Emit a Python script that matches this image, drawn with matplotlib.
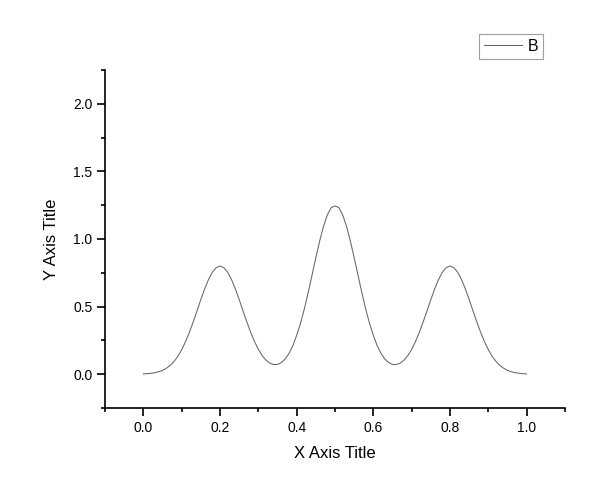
import matplotlib
matplotlib.use("Agg")
import matplotlib.pyplot as plt
from matplotlib.ticker import FixedLocator

plt.rcParams['font.family'] = ['Liberation Sans', 'DejaVu Sans']

x_vals = [0.00, 0.01, 0.02, 0.03, 0.04, 0.05, 0.06, 0.07, 0.08, 0.09,
          0.10, 0.11, 0.12, 0.13, 0.14, 0.15, 0.16, 0.17, 0.18, 0.19,
          0.20, 0.21, 0.22, 0.23, 0.24, 0.25, 0.26, 0.27, 0.28, 0.29,
          0.30, 0.31, 0.32, 0.33, 0.34, 0.35, 0.36, 0.37, 0.38, 0.39,
          0.40, 0.41, 0.42, 0.43, 0.44, 0.45, 0.46, 0.47, 0.48, 0.49,
          0.50, 0.51, 0.52, 0.53, 0.54, 0.55, 0.56, 0.57, 0.58, 0.59,
          0.60, 0.61, 0.62, 0.63, 0.64, 0.65, 0.66, 0.67, 0.68, 0.69,
          0.70, 0.71, 0.72, 0.73, 0.74, 0.75, 0.76, 0.77, 0.78, 0.79,
          0.80, 0.81, 0.82, 0.83, 0.84, 0.85, 0.86, 0.87, 0.88, 0.89,
          0.90, 0.91, 0.92, 0.93, 0.94, 0.95, 0.96, 0.97, 0.98, 0.99, 1.00]
y_vals = [0.002, 0.004, 0.007, 0.011, 0.018, 0.028, 0.044, 0.065, 0.094, 0.132,
          0.181, 0.240, 0.309, 0.386, 0.468, 0.552, 0.631, 0.700, 0.754, 0.788,
          0.800, 0.788, 0.754, 0.700, 0.631, 0.552, 0.468, 0.387, 0.310, 0.242,
          0.184, 0.138, 0.104, 0.082, 0.071, 0.072, 0.086, 0.112, 0.154, 0.211,
          0.288, 0.376, 0.483, 0.604, 0.732, 0.862, 0.985, 1.094, 1.178, 1.232,
          1.245, 1.232, 1.178, 1.094, 0.985, 0.862, 0.732, 0.604, 0.483, 0.376,
          0.288, 0.211, 0.154, 0.112, 0.086, 0.072, 0.071, 0.082, 0.104, 0.138,
          0.184, 0.242, 0.310, 0.387, 0.468, 0.552, 0.631, 0.700, 0.754, 0.788,
          0.800, 0.788, 0.754, 0.700, 0.631, 0.552, 0.468, 0.386, 0.309, 0.240,
          0.181, 0.132, 0.094, 0.065, 0.044, 0.028, 0.018, 0.011, 0.007, 0.004, 0.002]
series_name = "B"
x_title = "X Axis Title"
y_title = "Y Axis Title"
x_major = [0.0, 0.2, 0.4, 0.6, 0.8, 1.0]
x_minor = [-0.1, 0.1, 0.3, 0.5, 0.7, 0.9, 1.1]
y_major = [0.0, 0.5, 1.0, 1.5, 2.0]
y_minor = [-0.25, 0.25, 0.75, 1.25, 1.75, 2.25]
x_labels = ['0.0', '0.2', '0.4', '0.6', '0.8', '1.0']
y_labels = ['0.0', '0.5', '1.0', '1.5', '2.0']

fig = plt.figure(figsize=(6.0, 4.96), dpi=100)
ax = fig.add_axes([0.175, 0.1774, 0.7667, 0.6815])

ax.plot(x_vals, y_vals, color='#666666', lw=0.75, label=series_name)

ax.set_xlim(-0.1, 1.1)
ax.set_ylim(-0.25, 2.25)

ax.xaxis.set_major_locator(FixedLocator(x_major))
ax.xaxis.set_minor_locator(FixedLocator(x_minor))
ax.yaxis.set_major_locator(FixedLocator(y_major))
ax.yaxis.set_minor_locator(FixedLocator(y_minor))
ax.set_xticklabels(x_labels)
ax.set_yticklabels(y_labels)

for s in ['top', 'right']:
    ax.spines[s].set_visible(False)
for s in ['left', 'bottom']:
    ax.spines[s].set_linewidth(1.2)
    ax.spines[s].set_color('black')

ax.tick_params(which='major', direction='out', length=6, width=1.2, labelsize=10, colors='black', pad=3)
ax.tick_params(which='minor', direction='out', length=3, width=1.2)

ax.set_xlabel(x_title, fontsize=12, labelpad=8)
ax.set_ylabel(y_title, fontsize=12, labelpad=10)

leg = ax.legend(loc='upper right', bbox_to_anchor=(0.952, 1.1065), frameon=True, fancybox=False,
                edgecolor='#888888', fontsize=11.5, handlelength=2.4, borderpad=0.3,
                handletextpad=0.35, borderaxespad=0)
leg.get_frame().set_linewidth(0.8)

fig.savefig('out.png', dpi=100, facecolor='white')
